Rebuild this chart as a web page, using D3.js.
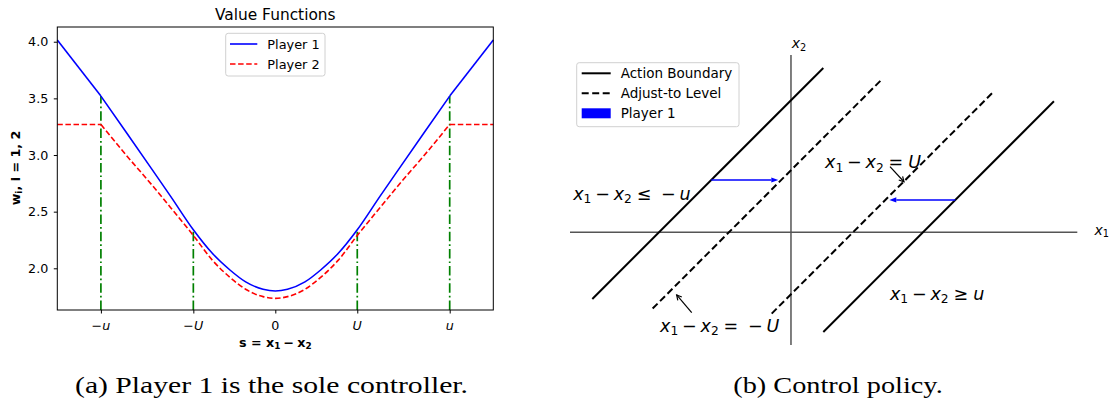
<!DOCTYPE html>
<html>
<head>
<meta charset="utf-8">
<script src="https://cdn.jsdelivr.net/npm/d3@7"></script>
<style>
html,body{margin:0;padding:0;background:#fff;}
svg{display:block;font-family:"DejaVu Sans",sans-serif;}
text{white-space:pre;}
</style>
</head>
<body>
<script>
// ---------------- DATA ----------------
// (a) value functions, s = x1 - x2 in units of u (u = 1, U ≈ 0.47)
const uVal = 1.0;
const UVal = 0.47;
const sValues = [-1.25, -1.0, -0.85, -0.71, -0.6, -0.47, -0.36, -0.26, -0.17, -0.07, 0,
                 0.07, 0.17, 0.26, 0.36, 0.47, 0.6, 0.71, 0.85, 1.0, 1.25];
const player1 = [4.015, 3.52, 3.19, 2.88, 2.635, 2.34, 2.13, 1.985, 1.88, 1.815, 1.80,
                 1.815, 1.88, 1.985, 2.13, 2.34, 2.635, 2.88, 3.19, 3.52, 4.015];
const player2 = [3.27, 3.27, 2.99, 2.74, 2.535, 2.29, 2.07, 1.92, 1.815, 1.75, 1.735,
                 1.75, 1.815, 1.92, 2.07, 2.29, 2.535, 2.74, 2.99, 3.27, 3.27];
const yTickValues = [2.0, 2.5, 3.0, 3.5, 4.0];
const xTickValues = [-uVal, -UVal, 0, UVal, uVal];
const xTickLabels = [[["−","n"],["u","i"]], [["−","n"],["U","i"]], [["0","n"]], [["U","i"]], [["u","i"]]];
const guideLines = [-uVal, -UVal, UVal, uVal];
const legendA = ["Player 1", "Player 2"];

// (b) control policy, lines x1 - x2 = c
const boundaryC = [-uVal, uVal];
const boundaryX1 = [[-1.505, 0.245], [0.245, 1.992]];
const adjustC = [-UVal, UVal];
const adjustX1 = [[-1.048, 0.687], [-0.146, 1.538]];
// player-1 arrows: [x2, x1 start, x1 end]
const controlArrows = [[0.396, -0.604, -0.096], [0.245, 1.245, 0.745]];
const legendB = ["Action Boundary", "Adjust-to Level", "Player 1"];

// ---------------- CHART ----------------
const svg = d3.select("body").append("svg").attr("width", 1112).attr("height", 402);

function drawMath(parent, x, y, tokens, size, anchor, weight) {
  const t = parent.append("text").attr("x", x).attr("y", y)
    .attr("font-size", size).attr("text-anchor", anchor || "start")
    .attr("font-weight", weight || "normal").attr("fill", "#000");
  let shift = 0;
  tokens.forEach(tok => {
    const [str, kind, gap] = tok;
    const ts = t.append("tspan").text(str);
    let dy;
    if (kind === "s") { ts.attr("font-size", size * 0.7); dy = size * 0.2 - shift; shift = size * 0.2; }
    else { dy = -shift; shift = 0; }
    if (dy) ts.attr("dy", dy);
    if (kind === "i") ts.attr("font-style", "italic");
    if (gap) ts.attr("dx", gap * size);
  });
  return t;
}

// ===== (a) =====
const gA = svg.append("g");
const xL = d3.scaleLinear().domain([-1.25, 1.25]).range([57.3, 493.3]);
const yL = d3.scaleLinear().domain([1.632, 4.130]).range([310, 27]);
const pts = sValues.map((s, i) => ({s, p1: player1[i], p2: player2[i]}));

// guide lines (dash-dot green)
guideLines.forEach(g => {
  const idx = sValues.indexOf(g);
  gA.append("line").attr("x1", xL(g)).attr("x2", xL(g))
    .attr("y1", yL.range()[0]).attr("y2", yL(player1[idx]))
    .attr("stroke", "#008000").attr("stroke-width", 1.7)
    .attr("stroke-dasharray", "9.5,3,1.7,3");
});

function segs() {
  return [pts.filter(d => d.s <= -uVal), pts.filter(d => Math.abs(d.s) <= uVal), pts.filter(d => d.s >= uVal)];
}
const lineGen = key => d3.line().x(d => xL(d.s)).y(d => yL(d[key])).curve(d3.curveMonotoneX);
segs().forEach(seg => {
  gA.append("path").attr("d", lineGen("p2")(seg)).attr("fill", "none")
    .attr("stroke", "#ff0000").attr("stroke-width", 1.6).attr("stroke-dasharray", "5.5,2.6");
});
segs().forEach(seg => {
  gA.append("path").attr("d", lineGen("p1")(seg)).attr("fill", "none")
    .attr("stroke", "#0000ff").attr("stroke-width", 1.6);
});

// frame
gA.append("rect").attr("x", 57.3).attr("y", 27).attr("width", 436).attr("height", 283)
  .attr("fill", "none").attr("stroke", "#000").attr("stroke-width", 1);

// axes
const yAx = gA.append("g").attr("transform", "translate(57.3,0)")
  .call(d3.axisLeft(yL).tickValues(yTickValues).tickFormat(d3.format(".1f")).tickSize(3.5).tickPadding(5.5));
yAx.select(".domain").remove();
yAx.selectAll("text").attr("font-size", 12.7).attr("font-family", "DejaVu Sans").attr("fill", "#000");
const xAx = gA.append("g").attr("transform", "translate(0,310)")
  .call(d3.axisBottom(xL).tickValues(xTickValues).tickFormat("").tickSize(3.5));
xAx.select(".domain").remove();
xTickValues.forEach((v, i) => drawMath(gA, xL(v), 330, xTickLabels[i], 12.7, "middle"));

// title & labels
gA.append("text").attr("x", 275.3).attr("y", 20).attr("text-anchor", "middle")
  .attr("font-size", 15.4).text("Value Functions");
drawMath(gA, 275.3, 346.5, [["s = x","n"],["1","s"],["−","n",0.25],["x","n",0.25],["2","s"]], 12.7, "middle", "bold");
const yl = gA.append("g").attr("transform", "translate(19.5,168) rotate(-90)");
drawMath(yl, 0, 0, [["w","n"],["i","s"],[", i = 1, 2","n"]], 12.7, "middle", "bold");

// legend
gA.append("rect").attr("x", 225.7).attr("y", 33.3).attr("width", 99.3).attr("height", 42.7)
  .attr("rx", 2.5).attr("fill", "#fff").attr("fill-opacity", 0.8).attr("stroke", "#d0d0d0").attr("stroke-width", 1);
legendA.forEach((name, i) => {
  const y = 44 + i * 20;
  gA.append("line").attr("x1", 230).attr("x2", 257.3).attr("y1", y).attr("y2", y)
    .attr("stroke", i === 0 ? "#0000ff" : "#ff0000").attr("stroke-width", 1.6)
    .attr("stroke-dasharray", i === 0 ? null : "5.5,2.6");
  gA.append("text").attr("x", 267.3).attr("y", y + 4.6).attr("font-size", 12.9).text(name);
});

// ===== (b) =====
const gB = svg.append("g");
const xR = d3.scaleLinear().domain([-1.674, 2.169]).range([570, 1077.3]);
const yR = d3.scaleLinear().domain([-0.854, 1.343]).range([345, 55]);

// coordinate axes
gB.append("line").attr("x1", xR(-1.674)).attr("x2", xR(2.169)).attr("y1", yR(0)).attr("y2", yR(0))
  .attr("stroke", "#555").attr("stroke-width", 1.5);
gB.append("line").attr("x1", xR(0)).attr("x2", xR(0)).attr("y1", yR(-0.854)).attr("y2", yR(1.343))
  .attr("stroke", "#555").attr("stroke-width", 1.5);
drawMath(gB, xR(0) + 0.7, 48, [["x","i"],["2","s"]], 14);
drawMath(gB, 1094.5, 234.5, [["x","i"],["1","s"]], 14);

// boundary lines
boundaryC.forEach((c, i) => {
  const [a, b] = boundaryX1[i];
  gB.append("line").attr("x1", xR(a)).attr("y1", yR(a - c)).attr("x2", xR(b)).attr("y2", yR(b - c))
    .attr("stroke", "#000").attr("stroke-width", 2);
});
adjustC.forEach((c, i) => {
  const [a, b] = adjustX1[i];
  gB.append("line").attr("x1", xR(a)).attr("y1", yR(a - c)).attr("x2", xR(b)).attr("y2", yR(b - c))
    .attr("stroke", "#000").attr("stroke-width", 2).attr("stroke-dasharray", "7,3.5");
});

// player 1 control arrows
controlArrows.forEach(([x2, a, b]) => {
  const y = yR(x2), xa = xR(a), xb = xR(b);
  const dir = Math.sign(xb - xa), hl = 7, hw = 2.6;
  gB.append("line").attr("x1", xa).attr("x2", xb - dir * hl).attr("y1", y).attr("y2", y)
    .attr("stroke", "#0000ff").attr("stroke-width", 1.6);
  gB.append("path").attr("d", `M${xb},${y}L${xb - dir * hl},${y - hw}L${xb - dir * hl},${y + hw}Z`)
    .attr("fill", "#0000ff");
});

// annotation arrows (open heads)
function annArrow(x0, y0, x1, y1) {
  const ang = Math.atan2(y1 - y0, x1 - x0), L = 5.5, w = 0.5;
  gB.append("line").attr("x1", x0).attr("y1", y0).attr("x2", x1).attr("y2", y1)
    .attr("stroke", "#000").attr("stroke-width", 1.2);
  const p1 = [x1 - L * Math.cos(ang - w), y1 - L * Math.sin(ang - w)];
  const p2 = [x1 - L * Math.cos(ang + w), y1 - L * Math.sin(ang + w)];
  gB.append("path").attr("d", `M${p1}L${x1},${y1}L${p2}`).attr("fill", "none")
    .attr("stroke", "#000").attr("stroke-width", 1.2);
}
annArrow(xR(0.75), yR(0.497), xR(0.856), yR(0.383));
annArrow(xR(-0.752), yR(-0.609), xR(-0.866), yR(-0.475));

// region / level labels
const MS = 17.5;
drawMath(gB, xR(-1.65), yR(0.245), [["x","i"],["1","s"],["−","n",0.22],["x","i",0.22],["2","s"],["≤","n",0.28],["−","n",0.55],["u","i",0.22]], MS);
drawMath(gB, xR(0.258), yR(0.485), [["x","i"],["1","s"],["−","n",0.22],["x","i",0.22],["2","s"],["=","n",0.28],["U","i",0.28]], MS);
drawMath(gB, xR(0.75), yR(-0.513), [["x","i"],["1","s"],["−","n",0.22],["x","i",0.22],["2","s"],["≥","n",0.28],["u","i",0.28]], MS);
drawMath(gB, xR(-0.992), yR(-0.753), [["x","i"],["1","s"],["−","n",0.22],["x","i",0.22],["2","s"],["=","n",0.28],["−","n",0.55],["U","i",0.22]], MS);

// legend
gB.append("rect").attr("x", 576.7).attr("y", 62.7).attr("width", 162.3).attr("height", 64)
  .attr("rx", 2.5).attr("fill", "#fff").attr("fill-opacity", 0.8).attr("stroke", "#d0d0d0").attr("stroke-width", 1);
legendB.forEach((name, i) => {
  const y = 73.3 + i * 20;
  if (i < 2) {
    gB.append("line").attr("x1", 581.7).attr("x2", 610.7).attr("y1", y).attr("y2", y)
      .attr("stroke", "#000").attr("stroke-width", 2).attr("stroke-dasharray", i === 1 ? "7,3.5" : null);
  } else {
    gB.append("rect").attr("x", 581.7).attr("y", y - 5).attr("width", 29).attr("height", 10).attr("fill", "#0000ff");
  }
  gB.append("text").attr("x", 620.7).attr("y", y + 4.9).attr("font-size", 13.5).text(name);
});

// captions
svg.append("text").attr("x", 75).attr("y", 393).attr("font-family", "Liberation Serif, serif")
  .attr("font-size", 24).attr("textLength", 393).attr("lengthAdjust", "spacingAndGlyphs")
  .text("(a) Player 1 is the sole controller.");
svg.append("text").attr("x", 733.3).attr("y", 393).attr("font-family", "Liberation Serif, serif")
  .attr("font-size", 24).attr("textLength", 209.4).attr("lengthAdjust", "spacingAndGlyphs")
  .text("(b) Control policy.");
</script>
</body>
</html>
